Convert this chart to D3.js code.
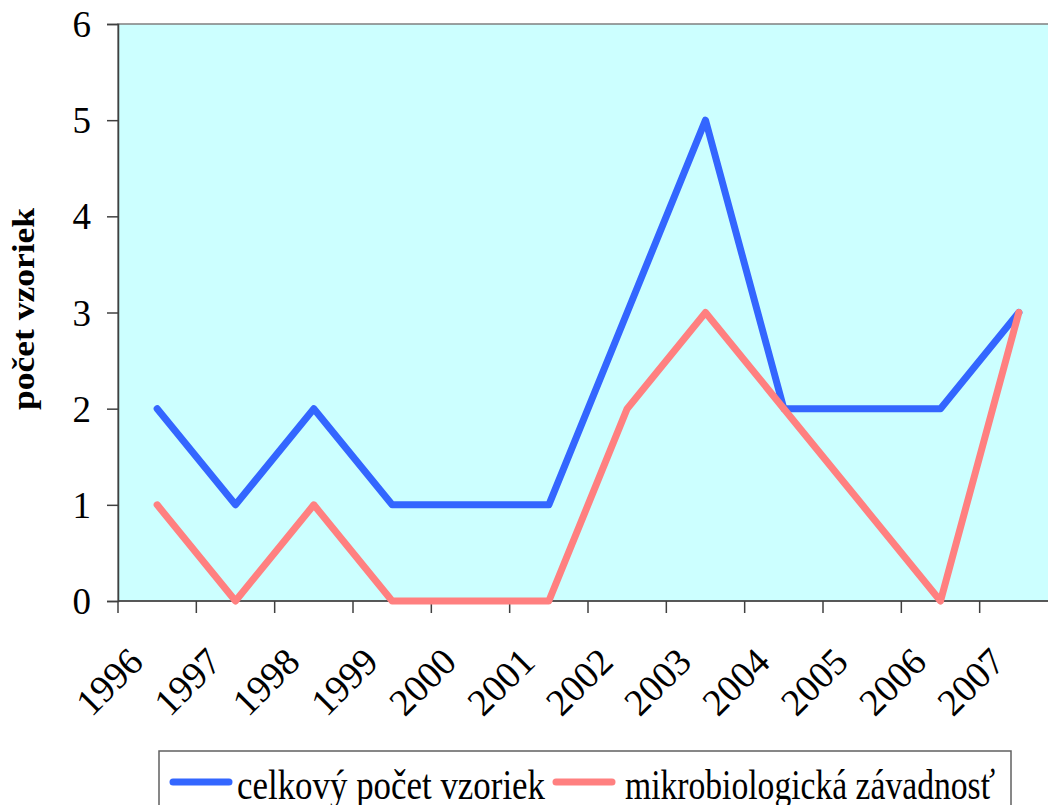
<!DOCTYPE html>
<html>
<head>
<meta charset="utf-8">
<script src="https://cdn.jsdelivr.net/npm/d3@7"></script>
<style>
  body { margin: 0; background: #fff; }
  svg { display: block; }
  text { font-family: "Liberation Serif", "Times New Roman", serif; fill: #000; }
</style>
</head>
<body>
<svg id="chart" width="1048" height="805"></svg>
<script>
const years = ["1996","1997","1998","1999","2000","2001","2002","2003","2004","2005","2006","2007"];
const totalSamples = [2,1,2,1,1,1,3,5,2,2,2,3];
const microDefects = [1,0,1,0,0,0,2,3,2,1,0,3];
const yTicks = [0,1,2,3,4,5,6];
const seriesNames = ["celkový počet vzoriek", "mikrobiologická závadnosť"];
const seriesColors = ["#3366FF", "#FF8080"];
const yTitle = "počet vzoriek";

(function () {
const svg = d3.select("#chart");
const pLeft = 118, pRight = 1058, pTop = 24, pBottom = 601;

const x = d3.scaleBand().domain(years).range([pLeft, pRight]).paddingInner(0).paddingOuter(0);
const y = d3.scaleLinear().domain([0, 6]).range([pBottom, pTop]);

// plot background
svg.append("rect")
  .attr("x", pLeft).attr("y", pTop)
  .attr("width", pRight - pLeft).attr("height", pBottom - pTop)
  .attr("fill", "#CCFFFF")
  .attr("stroke", "#808080").attr("stroke-width", 1.5);

// y axis
const yAxis = d3.axisLeft(y).tickValues(yTicks).tickSize(11).tickPadding(16).tickFormat(d3.format("d"));
const gy = svg.append("g").attr("transform", `translate(${pLeft},0)`).call(yAxis);
gy.select(".domain").attr("stroke", "#404040").attr("stroke-width", 1.5);
gy.selectAll(".tick line").attr("stroke", "#404040").attr("stroke-width", 1.5);
gy.selectAll(".tick text").attr("font-size", 37).attr("font-family", "Liberation Serif").attr("fill", "#000").attr("dy", "0.34em");

// x axis: ticks at band boundaries
const boundaries = years.map(d => x(d)).concat([x(years[years.length-1]) + x.bandwidth()]);
const gx = svg.append("g");
gx.append("line").attr("x1", pLeft).attr("x2", pRight).attr("y1", pBottom).attr("y2", pBottom)
  .attr("stroke", "#404040").attr("stroke-width", 1.5);
gx.selectAll("line.tk").data(boundaries).enter().append("line").attr("class", "tk")
  .attr("x1", d => d).attr("x2", d => d).attr("y1", pBottom).attr("y2", pBottom + 12)
  .attr("stroke", "#404040").attr("stroke-width", 1.5);
gx.selectAll("text").data(years).enter().append("text")
  .attr("text-anchor", "end")
  .attr("font-size", 38)
  .attr("transform", d => `translate(${x(d) + x.bandwidth()/2 - 12},664) rotate(-45)`)
  .text(d => d);

// lines
const line = d3.line().x((d, i) => x(years[i]) + x.bandwidth()/2).y(d => y(d));
[totalSamples, microDefects].forEach((s, i) => {
  svg.append("path").datum(s)
    .attr("d", line)
    .attr("fill", "none")
    .attr("stroke", seriesColors[i])
    .attr("stroke-width", 7)
    .attr("stroke-linejoin", "round")
    .attr("stroke-linecap", "round");
});

// y title
svg.append("text")
  .attr("transform", `translate(34,309) rotate(-90)`)
  .attr("text-anchor", "middle")
  .attr("font-size", 32)
  .attr("font-weight", "bold")
  .attr("textLength", 202)
  .attr("lengthAdjust", "spacingAndGlyphs")
  .text(yTitle);

// legend
const lg = svg.append("g");
lg.append("rect").attr("x", 159).attr("y", 751).attr("width", 852).attr("height", 70)
  .attr("fill", "#fff").attr("stroke", "#606060").attr("stroke-width", 1.5);
const legendItems = [{x0: 170, tx: 237, len: 308}, {x0: 553, tx: 625, len: 370}];
seriesNames.forEach((n, i) => {
  lg.append("line").attr("x1", legendItems[i].x0 + 3).attr("x2", legendItems[i].x0 + 59)
    .attr("y1", 782).attr("y2", 782)
    .attr("stroke", seriesColors[i]).attr("stroke-width", 7).attr("stroke-linecap", "round");
  lg.append("text").attr("x", legendItems[i].tx).attr("y", 799)
    .attr("font-size", 42)
    .attr("textLength", legendItems[i].len)
    .attr("lengthAdjust", "spacingAndGlyphs")
    .text(n);
});
})();
</script>
</body>
</html>
